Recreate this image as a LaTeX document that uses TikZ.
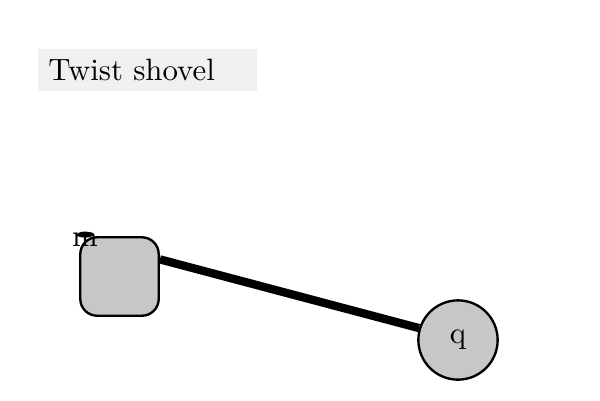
\documentclass[tikz,border=0pt]{standalone}
\usetikzlibrary{positioning}

\begin{document}
\begin{tikzpicture}[x=0.01185cm, y=-0.01185cm]
    \tikzstyle{titlebox} = [rectangle, fill=black!6, minimum width=2.55cm, minimum height=0.46cm, text width=2.35cm, align=left, inner sep=0.12cm, font=\fontsize{10.4}{12}\selectfont]
    \tikzstyle{shovel} = [rectangle, rounded corners=0.2cm, minimum width=0.93cm, minimum height=0.93cm, draw=black, thick, fill=black!22]
    \tikzstyle{pivot} = [circle, minimum size=0.94cm, draw=black, thick, fill=black!22, font=\fontsize{10.4}{12}\selectfont]
    \tikzstyle{link} = [line width=2.8pt]

    \useasboundingbox (0,0) rectangle (600,400);

    \node (title) [titlebox] at (147.5,69.5) {Twist shovel};
    \node (box) [shovel] at (119.5,276.5) {};
    \node (q) [pivot] at (458,340) {q};
    \node (m) [inner sep=0pt, font=\fontsize{10.4}{12}\selectfont] at (85,240) {m};

    \fill (m.north) ++(0,2) ellipse [x radius=8, y radius=3];
    \draw [link] (box.23) -- (q.163);
\end{tikzpicture}
\end{document}
